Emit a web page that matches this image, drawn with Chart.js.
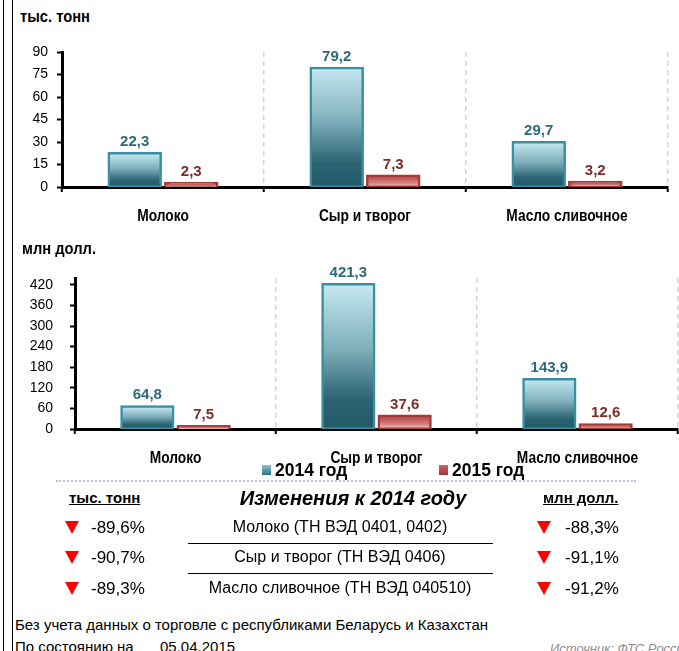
<!DOCTYPE html>
<html lang="ru">
<head>
<meta charset="utf-8">
<script src="https://cdn.jsdelivr.net/npm/chart.js@4.4.1/dist/chart.umd.min.js"></script>
<style>
  html, body { margin: 0; padding: 0; background: #fff; }
  body { width: 679px; height: 651px; position: relative; overflow: hidden; font-family: "Liberation Sans", Arial, sans-serif; color: #000; }
  .vline { position: absolute; top: 0; bottom: 0; width: 1px; background: #000; }
  .abs { position: absolute; white-space: nowrap; line-height: 1; }
  canvas { position: absolute; }
  .tri { position: absolute; width: 0; height: 0; border-left: 7px solid transparent; border-right: 7px solid transparent; border-top: 13px solid #f00; }
  .row-line { position: absolute; left: 188px; width: 305px; height: 1px; background: #000; }
</style>
</head>
<body>
<div class="vline" style="left:3px"></div>
<div class="vline" style="left:12px"></div>

<canvas id="chartTonn" width="665" height="200" style="left:14px; top:35px;"></canvas>
<canvas id="chartUsd" width="665" height="230" style="left:14px; top:250px;"></canvas>
<div id="texts"></div>

<script>
// categories and series
const categories = ['Молоко', 'Сыр и творог', 'Масло сливочное'];
const seriesNames = ['2014 год', '2015 год'];
const tonn2014 = [22.3, 79.2, 29.7];
const tonn2015 = [2.3, 7.3, 3.2];
const usd2014 = [64.8, 421.3, 143.9];
const usd2015 = [7.5, 37.6, 12.6];

// y axis ticks
const tonnTicks = [0, 15, 30, 45, 60, 75, 90];
const usdTicks = [0, 60, 120, 180, 240, 300, 360, 420];
const unitNames = ['тыс. тонн', 'млн долл.'];

// table under the charts
const tableTitle = 'Изменения к 2014 году';
const products = ['Молоко (ТН ВЭД 0401, 0402)', 'Сыр и творог (ТН ВЭД 0406)', 'Масло сливочное (ТН ВЭД 040510)'];
const changeTonn = ['-89,6%', '-90,7%', '-89,3%'];
const changeUsd = ['-88,3%', '-91,1%', '-91,2%'];
const footNote = 'Без учета данных о торговле с республиками Беларусь и Казахстан';
const asOfLabel = 'По состоянию на';
const asOfDate = '05.04.2015';
const sourceNote = 'Источник: ФТС России';

const SANS = '"Liberation Sans", Arial, sans-serif';
const fmt = v => v.toFixed(1).replace('.', ',');

// vertical gradient from the top of each bar down to zero
function barFill(stops, fallback) {
    return function (c) {
        const chart = c.chart;
        const y = chart.scales && chart.scales.y;
        if (!chart.chartArea || !y || !c.parsed) return fallback;
        const yTop = y.getPixelForValue(c.parsed.y);
        const yBase = y.getPixelForValue(0);
        if (!isFinite(yTop) || yBase - yTop < 1) return fallback;
        const g = chart.ctx.createLinearGradient(0, yTop, 0, yBase);
        stops.forEach(s => g.addColorStop(s[0], s[1]));
        return g;
    };
}
const tealStops = [[0, '#c4e8f0'], [0.45, '#7eaeba'], [0.8, '#2a6371'], [1, '#215a68']];
const redStops = [[0, '#b44444'], [0.6, '#d27d7d'], [0.9, '#ecb8b8'], [1, '#c86262']];

// bar values above bars + narrow bold category names under the axis
const chartText = {
    id: 'chartText',
    afterDatasetsDraw(chart) {
        const ctx = chart.ctx;
        chart.data.datasets.forEach((ds, i) => {
            chart.getDatasetMeta(i).data.forEach((bar, j) => {
                ctx.save();
                ctx.font = 'bold 15px ' + SANS;
                ctx.fillStyle = ds.labelColor;
                ctx.textAlign = 'center';
                ctx.textBaseline = 'bottom';
                ctx.fillText(fmt(ds.data[j]), bar.x, bar.y - 4);
                ctx.restore();
            });
        });
        const xs = chart.scales.x;
        chart.data.labels.forEach((lab, i) => {
            ctx.save();
            ctx.translate(xs.getPixelForTick(i), chart.chartArea.bottom + 30);
            ctx.scale(0.86, 1);
            ctx.font = 'bold 16px ' + SANS;
            ctx.fillStyle = '#000';
            ctx.textAlign = 'center';
            ctx.textBaseline = 'middle';
            ctx.fillText(lab, 0, 0);
            ctx.restore();
        });
    }
};

function makeChart(id, d2014, d2015, yMax, ticks, yWidth, xHeight, tickPad, pad) {
    const ctx = document.getElementById(id).getContext('2d');
    const barStyle = { borderWidth: 2.5, borderSkipped: false, inflateAmount: 1.5, categoryPercentage: 0.56, barPercentage: 0.91 };
    return new Chart(ctx, {
        type: 'bar',
        data: {
            labels: categories,
            datasets: [
                Object.assign({
                    label: seriesNames[0],
                    data: d2014,
                    backgroundColor: barFill(tealStops, '#5f96a3'),
                    borderColor: '#3a8ea4',
                    labelColor: '#2c6a7b'
                }, barStyle),
                Object.assign({
                    label: seriesNames[1],
                    data: d2015,
                    backgroundColor: barFill(redStops, '#c05a5a'),
                    borderColor: '#a23a3a',
                    labelColor: '#7b2c2c'
                }, barStyle)
            ]
        },
        options: {
            responsive: false,
            animation: false,
            layout: { padding: pad },
            plugins: { legend: { display: false }, tooltip: { enabled: false } },
            scales: {
                x: {
                    grid: { color: '#d4d4d4', lineWidth: 1.5, tickColor: '#000', tickLength: 5, tickWidth: 2 },
                    border: { color: '#000', width: 3, dash: [5, 4] },
                    ticks: { display: false },
                    afterFit: s => { s.height = xHeight; s.paddingLeft = 0; s.paddingRight = 0; }
                },
                y: {
                    min: 0,
                    max: yMax,
                    afterBuildTicks: s => { s.ticks = ticks.map(v => ({ value: v })); },
                    grid: { drawOnChartArea: false, tickColor: '#000', tickLength: 5, tickWidth: 2 },
                    border: { color: '#000', width: 3 },
                    ticks: { color: '#000', padding: tickPad, font: { family: SANS, size: 14 } },
                    afterFit: s => { s.width = yWidth; s.paddingTop = 0; s.paddingBottom = 0; }
                }
            }
        },
        plugins: [chartText]
    });
}

makeChart('chartTonn', tonn2014, tonn2015, 90, tonnTicks, 48, 48, 9, { top: 17, right: 11, left: 0, bottom: 0 });
makeChart('chartUsd', usd2014, usd2015, 440, usdTicks, 61, 51, 17, { top: 28, right: 1, left: 0, bottom: 0 });

// text blocks: unit captions, legend, table, footer
function txt(s, left, cy, size, style) {
    return '<div class="abs" style="left:' + left + 'px; top:' + (cy - size / 2) + 'px; font-size:' + size + 'px;' + (style || '') + '">' + s + '</div>';
}
function ctxt(s, cx, w, cy, size, style) {
    return txt(s, cx - w / 2, cy, size, 'width:' + w + 'px; text-align:center;' + (style || ''));
}
const narrowBold = 'font-weight:bold; transform:scaleX(0.92); transform-origin:left center;';
let html = '';
html += txt(unitNames[0], 20, 17, 16, narrowBold);
html += txt(unitNames[1], 22, 249, 16, narrowBold);

const legendColors = ['linear-gradient(#8cc4d2,#2d7386)', 'linear-gradient(#c86a6a,#9e3636)'];
const legendX = [262, 439];
seriesNames.forEach((n, i) => {
    html += '<div class="abs" style="left:' + legendX[i] + 'px; top:465px; width:9px; height:10px; background:' + legendColors[i] + ';"></div>';
    html += txt(n, legendX[i] + 13, 471, 17.5, 'font-weight:bold;');
});
html += '<div style="position:absolute; left:56px; top:480px; width:580px; border-top:2px dotted #b4c4d8;"></div>';

html += txt(unitNames[0], 69, 497, 15, 'font-weight:bold; text-decoration:underline;');
html += txt(unitNames[1], 543, 497, 15, 'font-weight:bold; text-decoration:underline;');
html += ctxt(tableTitle, 353, 300, 498, 20, 'font-weight:bold; font-style:italic;');
const rowY = [527, 557, 588];
products.forEach((p, i) => {
    html += '<div class="tri" style="left:65px; top:' + (rowY[i] - 6) + 'px;"></div>';
    html += txt(changeTonn[i], 91, rowY[i], 17);
    html += ctxt(p, 340, 320, rowY[i], 16);
    html += '<div class="tri" style="left:537px; top:' + (rowY[i] - 6) + 'px;"></div>';
    html += txt(changeUsd[i], 565, rowY[i], 17);
    if (i < products.length - 1) html += '<div class="row-line" style="top:' + (rowY[i] + 16) + 'px;"></div>';
});

html += txt(footNote, 15, 624, 15);
html += txt(asOfLabel, 15, 646, 15);
html += txt(asOfDate, 160, 646, 15);
html += txt(sourceNote, 550, 648, 13, 'font-style:italic; color:#8c8c8c;');
document.getElementById('texts').innerHTML = html;
</script>
</body>
</html>
